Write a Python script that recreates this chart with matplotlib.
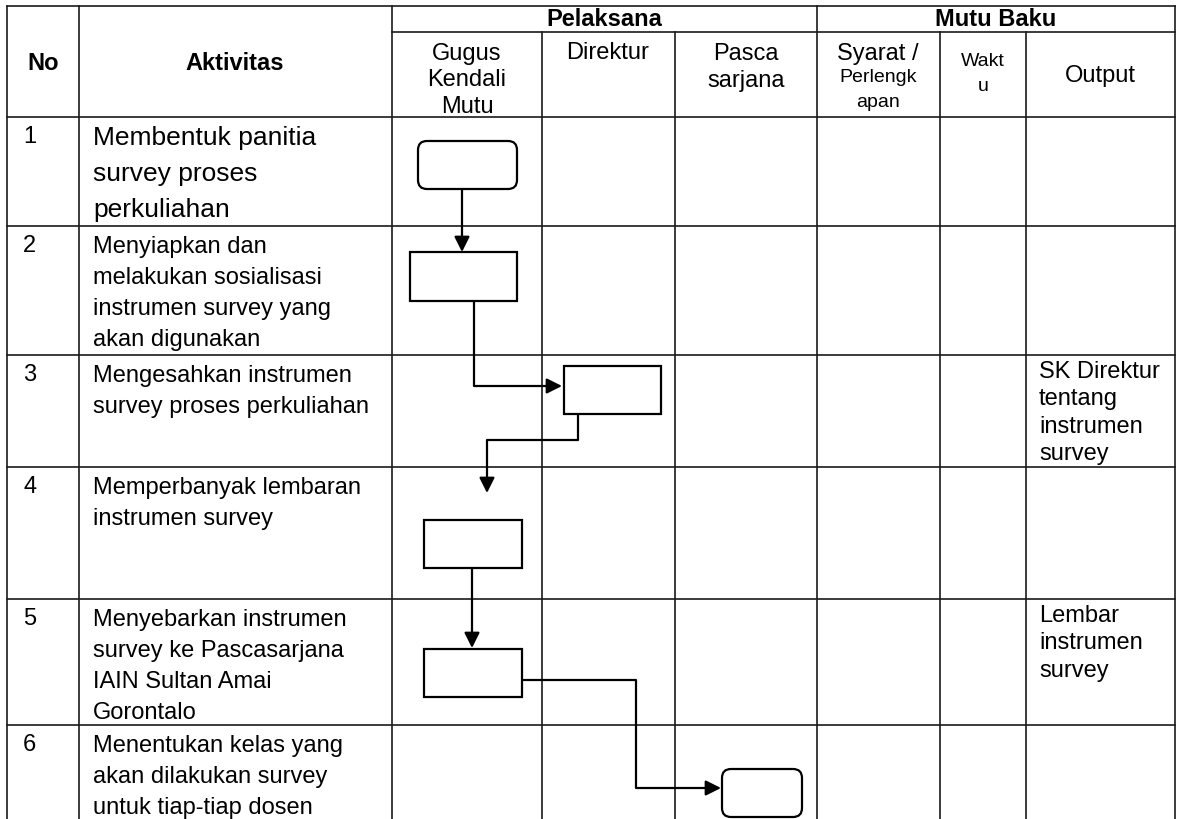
import matplotlib.pyplot as plt
from matplotlib.patches import FancyBboxPatch, Rectangle

plt.rcParams['font.family'] = ['Liberation Sans', 'DejaVu Sans']

# table content
nomor = ['1', '2', '3', '4', '5', '6']
aktivitas = [
    'Membentuk panitia\nsurvey proses\nperkuliahan',
    'Menyiapkan dan\nmelakukan sosialisasi\ninstrumen survey yang\nakan digunakan',
    'Mengesahkan instrumen\nsurvey proses perkuliahan',
    'Memperbanyak lembaran\ninstrumen survey',
    'Menyebarkan instrumen\nsurvey ke Pascasarjana\nIAIN Sultan Amai\nGorontalo',
    'Menentukan kelas yang\nakan dilakukan survey\nuntuk tiap-tiap dosen',
]
output = ['', '', 'SK Direktur\ntentang\ninstrumen\nsurvey', '', 'Lembar\ninstrumen\nsurvey', '']
rounded = [True, False, False, False, False, True]

# layout (pixels, y downwards)
col_x = [7, 79, 392, 542, 675, 817, 940, 1026, 1175]
head_y = [7, 33, 118]
row_y = [118, 227, 356, 468, 600, 726, 830]

boxes = [(418, 142, 517, 190), (410, 253, 517, 302), (564, 367, 661, 415),
         (424, 521, 522, 569), (424, 650, 522, 698), (722, 770, 802, 818)]
links = [
    [(462, 190), (462, 253)],
    [(474, 302), (474, 387), (562, 387)],
    [(578, 415), (578, 441), (487, 441), (487, 494)],
    [(472, 569), (472, 649)],
    [(522, 681), (636, 681), (636, 789), (721, 789)],
]

fig = plt.figure(figsize=(11.82, 8.2), dpi=100)
ax = fig.add_axes([0, 0, 1, 1])
ax.set_xlim(0, 1182)
ax.set_ylim(820, 0)
ax.axis('off')


def lines(x, base, s, pitch, ha='left', **kw):
    # one text per line, baselines spaced by pitch pixels
    for k, t in enumerate(s.split('\n')):
        ax.text(x, base + k * pitch, t, ha=ha, va='baseline', **kw)


lc = '#1a1a1a'
lw = 1.2
# outer / header lines
ax.plot([col_x[0], col_x[-1]], [head_y[0]] * 2, color=lc, lw=lw)
ax.plot([col_x[2], col_x[-1]], [head_y[1]] * 2, color=lc, lw=lw)
for y in row_y[:-1]:
    ax.plot([col_x[0], col_x[-1]], [y, y], color=lc, lw=lw)
for i, x in enumerate(col_x):
    top = head_y[1] if i in (3, 4, 6, 7) else head_y[0]
    ax.plot([x, x], [top, row_y[-1]], color=lc, lw=lw)

fs = 17
# header text
ax.text(43, 63, 'No', ha='center', va='center', fontsize=fs, fontweight='bold')
ax.text(235, 63, 'Aktivitas', ha='center', va='center', fontsize=fs, fontweight='bold')
ax.text(604, 19, 'Pelaksana', ha='center', va='center', fontsize=fs, fontweight='bold')
ax.text(996, 19, 'Mutu Baku', ha='center', va='center', fontsize=fs, fontweight='bold')
lines(467, 60, 'Gugus\nKendali\nMutu', 26.5, ha='center', fontsize=fs)
lines(608, 59, 'Direktur', 26.5, ha='center', fontsize=fs)
lines(746, 60, 'Pasca\nsarjana', 26.5, ha='center', fontsize=fs)
lines(878, 60, 'Syarat /', 26.5, ha='center', fontsize=fs)
lines(878, 82, 'Perlengk\napan', 25, ha='center', fontsize=14)
lines(983, 66, 'Wakt\nu', 25, ha='center', fontsize=14)
ax.text(1100, 76, 'Output', ha='center', va='center', fontsize=fs)

# body text
for i in range(len(nomor)):
    top = row_y[i]
    lines(23, top + 25, nomor[i], 31, fontsize=fs)
    if i == 0:
        lines(93, top + 27, aktivitas[i], 36, fontsize=19)
    else:
        lines(93, top + 26, aktivitas[i], 31, fontsize=fs)
    if output[i]:
        lines(1039, top + 22, output[i], 27.5, fontsize=fs)

# flowchart shapes
for (x0, y0, x1, y1), r in zip(boxes, rounded):
    if r:
        p = FancyBboxPatch((x0, y0), x1 - x0, y1 - y0, boxstyle='round,pad=0,rounding_size=9',
                           fc='white', ec='black', lw=1.6, zorder=3)
    else:
        p = Rectangle((x0, y0), x1 - x0, y1 - y0, fc='white', ec='black', lw=1.6, zorder=3)
    ax.add_patch(p)

for pts in links:
    xs = [p[0] for p in pts]
    ys = [p[1] for p in pts]
    ax.plot(xs[:-1], ys[:-1], color='black', lw=1.6, zorder=4, solid_capstyle='butt')
    ax.annotate('', xy=pts[-1], xytext=pts[-2],
                arrowprops=dict(arrowstyle='-|>', mutation_scale=23, lw=1.6, color='black',
                                shrinkA=0, shrinkB=0), zorder=4)

fig.savefig('out.png', dpi=100)
